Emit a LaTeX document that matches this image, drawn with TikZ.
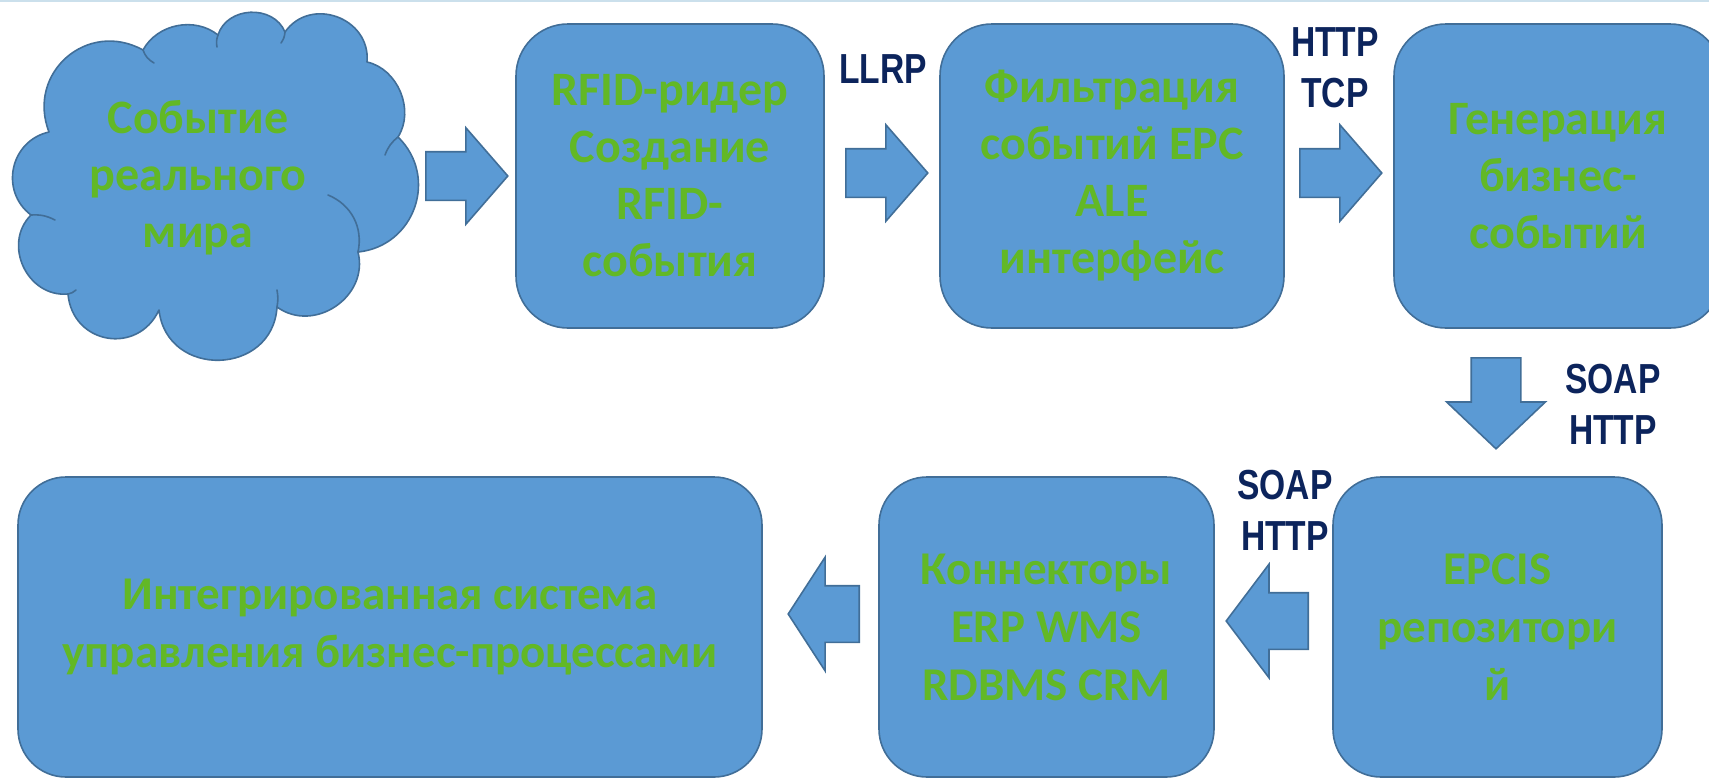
\documentclass[tikz,border=0pt]{standalone}
\usepackage{fontspec}
\setmainfont{Carlito}
\newfontfamily\protofont[FakeStretch=0.8]{Liberation Sans}
\usetikzlibrary{shapes.arrows,positioning}
\definecolor{boxblue}{RGB}{91,154,212}
\definecolor{boxline}{RGB}{65,110,152}
\definecolor{textgreen}{RGB}{98,184,38}
\definecolor{protonavy}{RGB}{12,36,92}
\definecolor{topline}{RGB}{203,224,236}
\tikzset{
    %Define style for boxes
    stage/.style={
           rectangle,
           rounded corners=52pt,
           draw=boxline, line width=1.6pt,
           fill=boxblue,
           minimum width=308pt,
           minimum height=304pt,
           inner sep=0pt,
           font=\fontsize{48}{57}\selectfont\bfseries,
           text=textgreen,
           align=center},
    lowstage/.style={
           stage,
           rounded corners=48pt,
           minimum height=300pt,
           font=\fontsize{47}{58}\selectfont\bfseries},
    %Define style for the cloud outline
    cloudline/.style={
           draw=boxline, line width=1.6pt,
           fill=boxblue,
           line join=round},
    cloudhook/.style={
           draw=boxline, line width=1.6pt,
           line cap=round},
    stagetext/.style={
           font=\fontsize{48}{57}\selectfont\bfseries,
           text=textgreen,
           align=center},
    % Define block arrow style
    blockarrow/.style={
           single arrow,
           anchor=tail,
           draw=boxline, line width=1.6pt,
           fill=boxblue,
           inner xsep=0pt, inner ysep=23.5pt,
           single arrow head extend=24pt,
           single arrow tip angle=98,
           minimum height=82pt,
           minimum width=95pt},
    proto/.style={
           font=\protofont\fontsize{42}{51}\selectfont\bfseries,
           text=protonavy,
           align=center}
}
\begin{document}
\begin{tikzpicture}[x=1pt,y=-1pt]
 \useasboundingbox (0,0) rectangle (1709,780);
 \draw[topline, line width=2pt] (0,1) -- (1709,1);

 %cloud
\path[cloudline] (49,132) to[bend left=70, looseness=1.3] (143,50)
  to[bend left=50] (218,35)
  to[bend left=70, looseness=1.15] (285,32)
  to[bend left=75, looseness=1.3] (367,62)
  to[bend left=55] (398,137)
  to[bend left=65, looseness=1.2] (358,252)
  to[bend left=70, looseness=1.2] (277,307)
  to[bend left=85, looseness=1.5] (159,310)
  to[bend left=75, looseness=1.4] (68,294)
  to[bend left=70, looseness=1.2] (31,215)
  to[bend left=65, looseness=1.2] (49,132) -- cycle;
\path[cloudhook] (143,50) to[bend right=20] (154,63)
  (218,35) to[bend right=15] (217,47)
  (285,32) to[bend left=15] (281,43)
  (398,137) to[bend right=15] (385,155)
  (358,252) to[bend right=40] (328,195)
  (277,307) to[bend right=10] (277,290)
  (68,294) to[bend right=15] (76,290)
  (31,215) to[bend left=15] (55,220);

 %upper row
\node[stagetext](world) at (198,178){Событие\\реального\\мира};
\node[blockarrow](a1) at (425,176){};
\node[stage](rfid) at (670,176){RFID-ридер\\Создание\\RFID-\\события};
\node[blockarrow](a2) at (845,173){};
\node[proto](llrp) at (883,69){LLRP};
\node[stage, minimum width=344pt](filter) at (1112,176){Фильтрация\\событий EPC\\ALE\\интерфейс};
\node[blockarrow](a3) at (1299,173){};
\node[proto](httptcp) at (1335,68){HTTP\\TCP};
\node[stage, minimum width=328pt](business) at (1558,176){Генерация\\бизнес-\\событий};

 %turn down
\node[blockarrow, shape border rotate=270, minimum height=91pt, minimum width=97pt,
      inner xsep=24pt, inner ysep=0pt, single arrow head extend=24.5pt,
      single arrow tip angle=93](a4) at (1496,357){};
\node[proto](soapdown) at (1613,404){SOAP\\HTTP};

 %lower row
\node[lowstage, minimum width=329pt](epcis) at (1497.5,627){EPCIS\\репозитори\\й};
\node[blockarrow, shape border rotate=180, minimum height=82pt, minimum width=112pt,
      inner ysep=27.5pt, single arrow head extend=28.5pt, single arrow tip angle=106](a5) at (1309,621){};
\node[proto](soapleft) at (1285,510){SOAP\\HTTP};
\node[lowstage, minimum width=335pt](connectors) at (1046.5,627){Коннекторы\\ERP WMS\\RDBMS CRM};
\node[blockarrow, shape border rotate=180, minimum height=71pt, minimum width=112pt,
      inner ysep=27.5pt, single arrow head extend=28.5pt, single arrow tip angle=114](a6) at (860,614){};
\node[lowstage, minimum width=744pt](erp) at (390,627){Интегрированная система\\управления бизнес-процессами};
\end{tikzpicture}
\end{document}
